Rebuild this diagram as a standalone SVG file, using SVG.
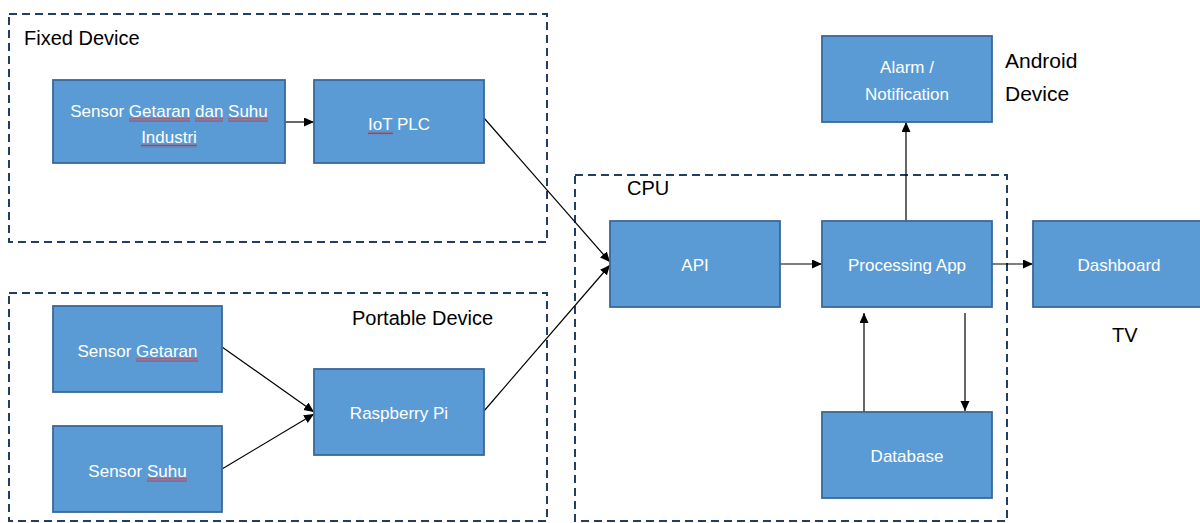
<svg xmlns="http://www.w3.org/2000/svg" width="1200" height="523" viewBox="0 0 1200 523">
  <style>
    .grp { fill: none; stroke: #1F3F66; stroke-width: 2; stroke-dasharray: 8 5; }
    .node { fill: #5B9BD5; stroke: #3A6898; stroke-width: 1.8; }
    .nt { font-family: "Liberation Sans", Arial, sans-serif; font-size: 17px; fill: #FFFFFF; text-anchor: middle; }
    .lbl { font-family: "Liberation Sans", Arial, sans-serif; font-size: 20px; fill: #000000; }
    .conn { stroke: #000000; stroke-width: 1.2; fill: none; marker-end: url(#arrow); }
    .sq { fill: url(#wavy); }
  </style>
  <defs>
    <marker id="arrow" markerUnits="userSpaceOnUse" markerWidth="11" markerHeight="10" refX="10" refY="4.5" orient="auto">
      <path d="M0,0 L10,4.5 L0,9 z" fill="#000000"/>
    </marker>
    <pattern id="wavy" patternUnits="userSpaceOnUse" x="0" y="0" width="2" height="3">
      <path d="M0 2.5 L1 0.5 L2 2.5" stroke="#D62020" stroke-width="0.8" fill="none"/>
    </pattern>
  </defs>
  <rect width="1200" height="523" fill="#FFFFFF"/>

  <g id="groups">
    <g id="fixed-device">
      <rect class="grp" x="9" y="14" width="538" height="228"/>
      <text class="lbl" x="24" y="45">Fixed Device</text>
    </g>
    <g id="portable-device">
      <rect class="grp" x="9" y="293" width="538" height="228"/>
      <text class="lbl" x="352" y="325">Portable Device</text>
    </g>
    <g id="cpu">
      <rect class="grp" x="575" y="175" width="432" height="346"/>
      <text class="lbl" x="627" y="195">CPU</text>
    </g>
  </g>

  <g id="connectors">
    <line class="conn" x1="285" y1="122" x2="314" y2="122"/>
    <line class="conn" x1="484" y1="118" x2="610" y2="262"/>
    <line class="conn" x1="222" y1="347" x2="314" y2="412"/>
    <line class="conn" x1="222" y1="469" x2="314" y2="414"/>
    <line class="conn" x1="484" y1="411" x2="610" y2="265"/>
    <line class="conn" x1="780" y1="264" x2="822" y2="264"/>
    <line class="conn" x1="992" y1="264" x2="1033" y2="264"/>
    <line class="conn" x1="906" y1="221" x2="906" y2="122"/>
    <line class="conn" x1="864" y1="412" x2="864" y2="313"/>
    <line class="conn" x1="965" y1="313" x2="965" y2="411"/>
  </g>

  <g id="sensor-industri">
    <rect class="node" x="53" y="80" width="232" height="83"/>
    <text class="nt" x="169" y="117">Sensor Getaran dan Suhu</text>
    <text class="nt" x="169" y="143">Industri</text>
    <rect class="sq" x="129" y="118.5" width="61" height="3"/>
    <rect class="sq" x="195" y="118.5" width="28" height="3"/>
    <rect class="sq" x="228" y="118.5" width="40" height="3"/>
    <rect class="sq" x="141" y="144.5" width="56" height="3"/>
  </g>

  <g id="iot-plc">
    <rect class="node" x="314" y="80" width="170" height="83"/>
    <text class="nt" x="399" y="130">IoT PLC</text>
    <rect class="sq" x="368" y="131.5" width="25" height="3"/>
  </g>

  <g id="sensor-getaran">
    <rect class="node" x="53" y="306" width="169" height="86"/>
    <text class="nt" x="137.5" y="357">Sensor Getaran</text>
    <rect class="sq" x="136" y="358.5" width="62" height="3"/>
  </g>

  <g id="sensor-suhu">
    <rect class="node" x="53" y="426" width="169" height="86"/>
    <text class="nt" x="137.5" y="477">Sensor Suhu</text>
    <rect class="sq" x="147" y="478.5" width="40" height="3"/>
  </g>

  <g id="raspberry-pi">
    <rect class="node" x="314" y="369" width="170" height="86"/>
    <text class="nt" x="399" y="419">Raspberry Pi</text>
  </g>

  <g id="api">
    <rect class="node" x="610" y="221" width="170" height="86"/>
    <text class="nt" x="695" y="271">API</text>
  </g>

  <g id="processing-app">
    <rect class="node" x="822" y="221" width="170" height="86"/>
    <text class="nt" x="907" y="271">Processing App</text>
  </g>

  <g id="database">
    <rect class="node" x="822" y="412" width="170" height="86"/>
    <text class="nt" x="907" y="462">Database</text>
  </g>

  <g id="alarm">
    <rect class="node" x="822" y="36" width="170" height="86"/>
    <text class="nt" x="907" y="73">Alarm /</text>
    <text class="nt" x="907" y="100">Notification</text>
  </g>

  <g id="android-label">
    <text class="lbl" x="1005" y="68" style="font-size:21px">Android</text>
    <text class="lbl" x="1005" y="101" style="font-size:21px">Device</text>
  </g>

  <g id="dashboard">
    <rect class="node" x="1033" y="221" width="172" height="86"/>
    <text class="nt" x="1119" y="271">Dashboard</text>
  </g>

  <g id="tv-label">
    <text class="lbl" x="1112" y="342">TV</text>
  </g>
</svg>
